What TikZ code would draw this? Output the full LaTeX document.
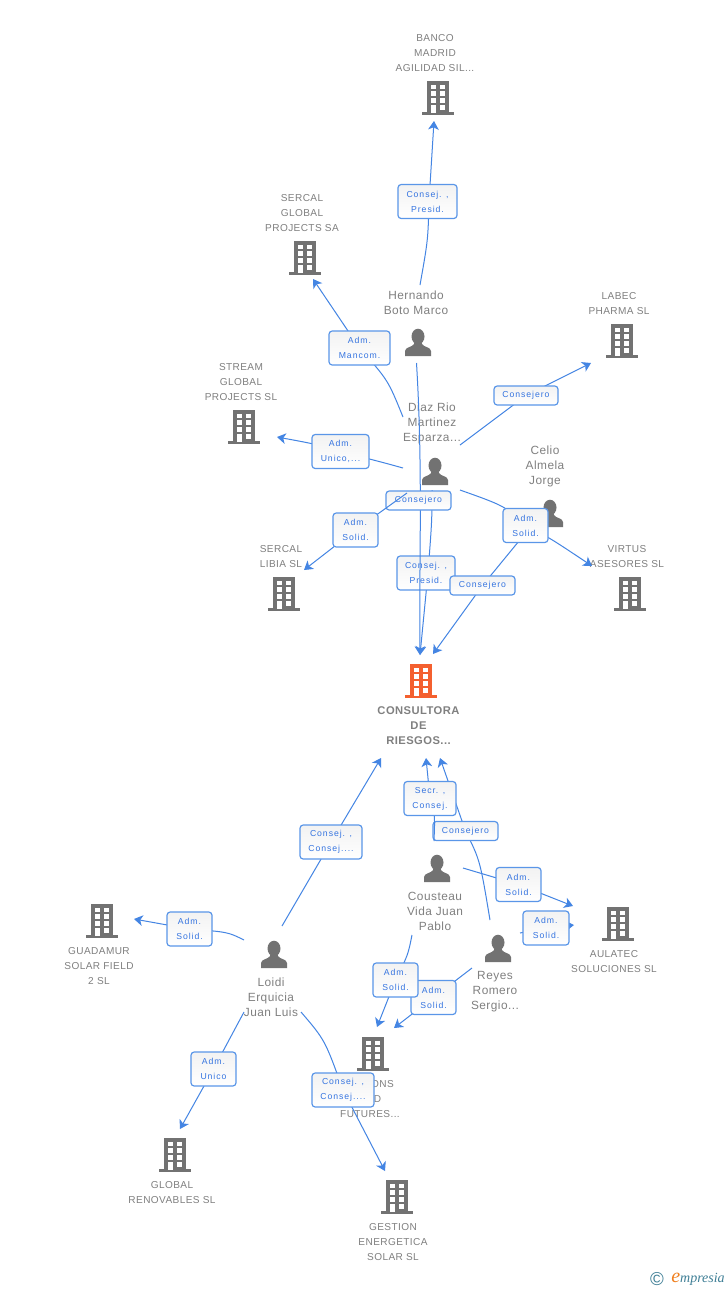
\documentclass[tikz,border=0pt]{standalone}
\usepackage{fontspec}
\setmainfont{Liberation Sans}
\newfontfamily\lblfont[LetterSpace=4]{Liberation Sans}
\newfontfamily\boxfont[LetterSpace=11]{Liberation Sans}
\newfontfamily\logofont{Liberation Serif}
\usetikzlibrary{arrows.meta}
\definecolor{lblgray}{HTML}{808080}
\definecolor{iconGray}{HTML}{727272}
\definecolor{iconOrange}{HTML}{F4602F}
\definecolor{edgeBlue}{HTML}{4485E3}
\definecolor{boxBlue}{HTML}{5A96E8}
\definecolor{boxText}{HTML}{3574E0}
\definecolor{logoTeal}{HTML}{3F7F96}
\definecolor{logoOrange}{HTML}{F08020}
\tikzset{
  lbl/.style={inner sep=0pt,align=center,text=lblgray,font=\lblfont\fontsize{7.55}{11.25}\selectfont},
  lblp/.style={lbl,font=\lblfont\fontsize{8.9}{11.25}\selectfont},
  lblb/.style={lbl,font=\lblfont\bfseries\fontsize{8.4}{11.25}\selectfont},
  ebox/.style={draw=boxBlue,line width=.9pt,rounded corners=2.4pt,top color=black!5,bottom color=white,
    inner sep=0pt,align=center,text=boxText,font=\boxfont\fontsize{6.5}{11.25}\selectfont,minimum width=#1*0.75pt},
  big/.style={minimum height=25.5pt},
  small/.style={minimum height=14.25pt},
  edge/.style={draw=edgeBlue,line width=.75pt},
  arr/.style={edge,-{Stealth[length=6.5pt,width=8pt,inset=1.8pt]}}
}
\newcommand{\bld}[3][iconGray]{%
  \begin{scope}[shift={(#2,#3)}]
    \fill[#1] (-11,0) rectangle (11,32);
    \fill[#1] (-16,31) rectangle (16,34);
    \foreach \yy in {3.7,10.4,17.1}{
      \fill[white] (-7.2,\yy) rectangle (-2.2,\yy+4.6);
      \fill[white] (2.2,\yy) rectangle (7.2,\yy+4.6);}
    \fill[white] (-7.2,23.8) rectangle (-2.2,32);
    \fill[white] (2.2,23.8) rectangle (7.2,29);
  \end{scope}}
\newcommand{\prs}[2]{%
  \begin{scope}[shift={(#1,#2)}]
    \fill[iconGray] (0,7.5) ellipse [x radius=6.5,y radius=7.8];
    \fill[iconGray] (-13,27) -- (-13,22) .. controls (-13,18) and (-5,18) .. (-4,15) -- (-3,11) -- (3,11) -- (4,15)
       .. controls (5,18) and (13,18) .. (13,22) -- (13,27) -- cycle;
  \end{scope}}
\begin{document}
\begin{tikzpicture}[x=0.75pt,y=-0.75pt]
\useasboundingbox (0,0) rectangle (728,1290);
\fill[white] (0,0) rectangle (728,1290);
% icons
\bld{438}{81}
\bld{305}{241}
\bld{244}{410}
\bld{622}{324}
\bld{284}{577}
\bld{630}{577}
\bld[iconOrange]{421}{664}
\bld{618}{907}
\bld{102}{904}
\bld{175}{1138}
\bld{397}{1180}
\bld{373}{1037}
\prs{418}{329}
\prs{435}{458}
\prs{550}{500}
\prs{437}{855}
\prs{498}{935}
\prs{274}{941}
% labels
\node[lbl] (lBanco) at (435,53) {BANCO\\MADRID\\AGILIDAD SIL...};
\node[lbl] (lSercalG) at (302,213) {SERCAL\\GLOBAL\\PROJECTS SA};
\node[lbl] (lStream) at (241,382) {STREAM\\GLOBAL\\PROJECTS SL};
\node[lbl] (lLabec) at (619,303.5) {LABEC\\PHARMA SL};
\node[lbl] (lLibia) at (281,556.5) {SERCAL\\LIBIA SL};
\node[lbl] (lVirtus) at (627,556.5) {VIRTUS\\ASESORES SL};
\node[lblb] (lCons) at (418.5,726) {CONSULTORA\\DE\\RIESGOS...};
\node[lbl] (lAula) at (614,961.5) {AULATEC\\SOLUCIONES SL};
\node[lbl] (lGuad) at (99,966) {GUADAMUR\\SOLAR FIELD\\2 SL};
\node[lbl] (lGlob) at (172,1192.5) {GLOBAL\\RENOVABLES SL};
\node[lbl] (lGest) at (393,1242) {GESTION\\ENERGETICA\\SOLAR SL};
\node[lbl] (lOpt) at (370,1099) {OPTIONS\\AND\\FUTURES...};
\node[lblp] (lHern) at (416,303) {Hernando\\Boto Marco};
\node[lblp] (lDiaz) at (432,423.5) {Diaz Rio\\Martinez\\Esparza...};
\node[lblp] (lCelio) at (545,466.5) {Celio\\Almela\\Jorge};
\node[lblp] (lCous) at (435,911.5) {Cousteau\\Vida Juan\\Pablo};
\node[lblp] (lReyes) at (495,991.5) {Reyes\\Romero\\Sergio...};
\node[lblp] (lLoidi) at (271,997.5) {Loidi\\Erquicia\\Juan Luis};
% free ends
\coordinate (hOutUp) at (420,285);
\coordinate (hOutDown) at (416.5,363);
\coordinate (tBanco) at (434,121);
\coordinate (dMan) at (403,417);
\coordinate (tSercalG) at (313,279);
\coordinate (dUni) at (403,468);
\coordinate (tStream) at (277,437);
\coordinate (dLab) at (460,445);
\coordinate (tLabec) at (591,363);
\coordinate (dDown) at (432,490);
\coordinate (tConsA) at (420,655);
\coordinate (dLib) at (407,493);
\coordinate (tLibia) at (304,570);
\coordinate (dVir) at (460,490);
\coordinate (tVirtus) at (592,566);
\coordinate (cOut) at (528,530);
\coordinate (tConsB) at (433,654);
\coordinate (lUp) at (282,926);
\coordinate (tConsC) at (381,758);
\coordinate (lLeft) at (244,940);
\coordinate (tGuad) at (134,919);
\coordinate (lDown) at (244,1012);
\coordinate (tGlob) at (180,1129);
\coordinate (lRight) at (301,1012);
\coordinate (tGest) at (385,1171);
\coordinate (cuUp) at (434,841);
\coordinate (tConsD) at (426,758);
\coordinate (rUp) at (490,920);
\coordinate (tConsE) at (440,758);
\coordinate (cuRight) at (463,868);
\coordinate (tAulaA) at (573,906);
\coordinate (rRight) at (520,933);
\coordinate (tAulaB) at (574,925);
\coordinate (cuDown) at (412,935);
\coordinate (tOptA) at (377,1027);
\coordinate (rDown) at (472,968);
\coordinate (tOptB) at (394,1028);
% connectors and their boxes, in stacking order
\draw[edge] (hOutUp) .. controls (428,240) .. (429,201.5);
\draw[arr] (429,201.5) -- (tBanco);
\node[ebox=59,big] (bBanco) at (427.5,201.5) {Consej. ,\\Presid.};

\draw[edge] (dMan) .. controls (388,380) .. (359.5,348);
\draw[arr] (359.5,348) -- (tSercalG);
\node[ebox=61,big] (bMan) at (359.5,348) {Adm.\\Mancom.};

\draw[edge] (dUni) .. controls (385,463) .. (340.5,451.5);
\draw[arr] (340.5,451.5) .. controls (315,444) .. (tStream);
\node[ebox=57,big] (bUni) at (340.5,451.5) {Adm.\\Unico,...};

\draw[edge] (dLab) -- (526,395.5);
\draw[arr] (526,395.5) -- (tLabec);
\node[ebox=64,small] (bLab) at (526,395.5) {Consejero};

\draw[edge] (dDown) .. controls (432,520) .. (428,573);
\draw[arr] (428,573) -- (tConsA);
\node[ebox=58,big] (bPres) at (426,573) {Consej. ,\\Presid.};

\draw[arr] (hOutDown) .. controls (423,470) and (419,560) .. (tConsA);
\node[ebox=65,small] (bHern) at (418.5,500.5) {Consejero};

\draw[edge] (dLib) -- (355.5,530);
\draw[arr] (355.5,530) -- (tLibia);
\node[ebox=45,big] (bLib) at (355.5,530) {Adm.\\Solid.};

\draw[edge] (cOut) -- (482.5,585.5);
\draw[arr] (482.5,585.5) -- (tConsB);
\node[ebox=65,small] (bCel) at (482.5,585.5) {Consejero};

\draw[edge] (dVir) .. controls (505,506) .. (525.5,525.5);
\draw[arr] (525.5,525.5) .. controls (550,538) .. (tVirtus);
\node[ebox=45,big] (bVir) at (525.5,525.5) {Adm.\\Solid.};

\draw[edge] (lUp) -- (331,842);
\draw[arr] (331,842) -- (tConsC);
\node[ebox=62,big] (bLC) at (331,842) {Consej. ,\\Consej....};

\draw[edge] (lLeft) .. controls (228,932) .. (189.5,929);
\draw[arr] (189.5,929) -- (tGuad);
\node[ebox=45,big] (bLG) at (189.5,929) {Adm.\\Solid.};

\draw[edge] (lDown) -- (213.5,1069);
\draw[arr] (213.5,1069) -- (tGlob);
\node[ebox=45,big] (bLR) at (213.5,1069) {Adm.\\Unico};

\draw[edge] (lRight) .. controls (325,1040) .. (343,1090);
\draw[arr] (343,1090) -- (tGest);
\node[ebox=62,big] (bLE) at (343,1090) {Consej. ,\\Consej....};

\draw[edge] (rUp) .. controls (480,860) .. (465.5,831);
\draw[arr] (465.5,831) -- (tConsE);
\node[ebox=65,small] (bRC) at (465.5,831) {Consejero};

\draw[edge] (cuUp) .. controls (435,815) .. (430,798.5);
\draw[arr] (430,798.5) -- (tConsD);
\node[ebox=52,big] (bCC) at (430,798.5) {Secr. ,\\Consej.};

\draw[edge] (cuRight) -- (518.5,884.5);
\draw[arr] (518.5,884.5) -- (tAulaA);
\node[ebox=45,big] (bCA) at (518.5,884.5) {Adm.\\Solid.};

\draw[edge] (rRight) -- (546,928);
\draw[arr] (546,928) -- (tAulaB);
\node[ebox=46,big] (bRA) at (546,928) {Adm.\\Solid.};

\draw[edge] (rDown) -- (433.5,997.5);
\draw[arr] (433.5,997.5) -- (tOptB);
\node[ebox=45,big] (bRO) at (433.5,997.5) {Adm.\\Solid.};

\draw[edge] (cuDown) .. controls (408,955) .. (395.5,980);
\draw[arr] (395.5,980) -- (tOptA);
\node[ebox=45,big] (bCO) at (395.5,980) {Adm.\\Solid.};
% logo
\node[inner sep=0pt,text=logoTeal,font=\fontsize{14}{14}\selectfont] (logoC) at (657,1279) {©};
\node[inner sep=0pt,anchor=west,text=logoTeal,font=\logofont\itshape\fontsize{10.5}{11}\selectfont] (logoT) at (671,1279) {{\textcolor{logoOrange}{\fontsize{15}{11}\selectfont e}}mpresia};
\end{tikzpicture}
\end{document}
